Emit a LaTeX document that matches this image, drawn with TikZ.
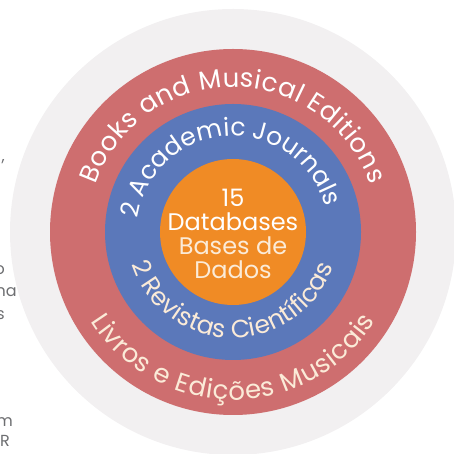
\documentclass[tikz,border=0pt]{standalone}
\usepackage{fontspec}
\setmainfont{Poppins}
\usetikzlibrary{calc,decorations.text}
\definecolor{paper}{HTML}{F2F0F1}
\definecolor{rose}{HTML}{CE6E6F}
\definecolor{denim}{HTML}{5B78BA}
\definecolor{amber}{HTML}{F08B25}
\definecolor{cream}{HTML}{FBEBD8}
\definecolor{greytext}{HTML}{6D6E71}
\newcommand\outerfont{\fontsize{26}{26}\selectfont}
\newcommand\innerfont{\fontsize{25}{25}\selectfont}
\tikzset{ring/.style={circle,inner sep=0pt,draw=none},
arctext/.style={decorate,decoration={text along path,text align=fit to path,text color=#1}},
frag/.style={font=\fontsize{16}{18}\selectfont,text=greytext,anchor=base east,inner sep=0pt},
count/.style={text=white,align=center,font=\fontsize{24}{24}\selectfont}}

\begin{document}
\begin{tikzpicture}[x=1pt,y=1pt]
\useasboundingbox (0,0) rectangle (454,454);
\clip (0,0) rectangle (454,454);
\coordinate (c) at (233,222);
\node[ring,fill=paper,minimum size=446] (shelf) at (c) {};
\node[ring,fill=rose,minimum size=366] (books) at (c) {};
\node[ring,fill=denim,minimum size=256] (journals) at (c) {};
\node[ring,fill=amber,minimum size=146] (bases) at (c) {};
\node[count] (total) at (233,220) {15\\Databases\\\color{cream}Bases de\\\color{cream}Dados};
\path[arctext=white,decoration={text={|\outerfont|Books and Musical Editions}}]
  ($(c)+(161:145)$) arc[start angle=161,end angle=19,radius=145];
\path[arctext=cream,decoration={text={|\outerfont|Livros e Edições Musicais}}]
  ($(c)+(212:168)$) arc[start angle=212,end angle=328,radius=168];
\path[arctext=white,decoration={text={|\innerfont|2 Academic Journals}}]
  ($(c)+(172:96)$) arc[start angle=172,end angle=15,radius=96];
\path[arctext=cream,decoration={text={|\innerfont|2 Revistas Científicas}}]
  ($(c)+(198:106)$) arc[start angle=198,end angle=341,radius=106];
\node[frag] (f1) at (5,292) {,};
\node[frag] (f2) at (5,179) {o};
\node[frag] (f3) at (17,157) {na};
\node[frag] (f4) at (5,134) {s};
\node[frag] (f5) at (13,27) {m};
\node[frag] (f6) at (10,7) {R};
\end{tikzpicture}
\end{document}
